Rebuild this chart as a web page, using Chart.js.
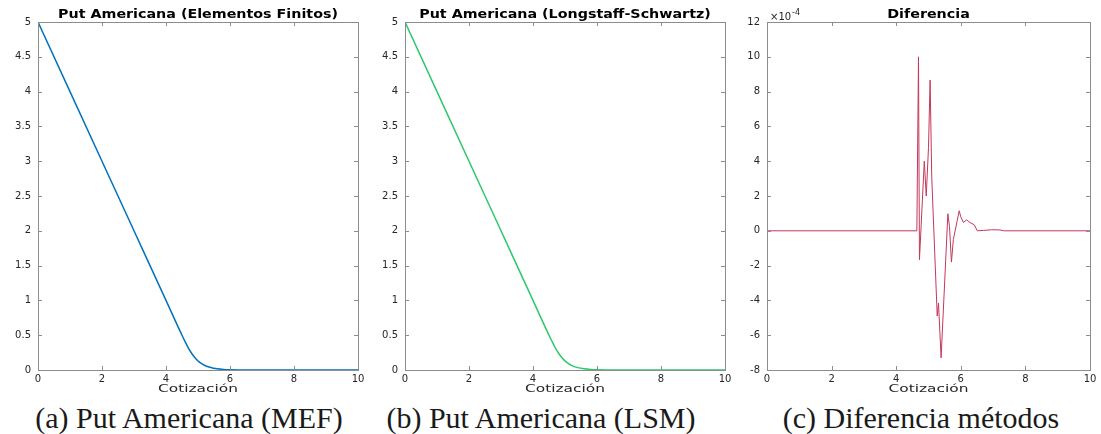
<!DOCTYPE html>
<html>
<head>
<meta charset="utf-8">
<script src="https://cdn.jsdelivr.net/npm/chart.js@4.4.1/dist/chart.umd.min.js"></script>
<style>
  body { margin: 0; background: #fff; width: 1101px; height: 434px; position: relative; overflow: hidden; }
  canvas { position: absolute; top: 0; }
  .cap { position: absolute; top: 403px; font-family: "Liberation Serif", serif; font-size: 30px; line-height: 30px; color: #1a1a1a; text-align: center; white-space: nowrap; }
</style>
</head>
<body>
<canvas id="mefChart" width="370" height="400" style="left:0px"></canvas>
<canvas id="lsmChart" width="367" height="400" style="left:370px"></canvas>
<canvas id="diffChart" width="364" height="400" style="left:737px"></canvas>
<div class="cap" style="left:0px;width:378px">(a) Put Americana (MEF)</div>
<div class="cap" style="left:370px;width:342px">(b) Put Americana (LSM)</div>
<div class="cap" style="left:737px;width:368px">(c) Diferencia métodos</div>
<script>
// Put price vs underlying (Cotización)
const spot = [0, 1, 2, 3, 4, 4.5, 4.6, 4.7, 4.8, 4.9, 5.0, 5.1, 5.2, 5.4, 5.6, 5.8, 6.0, 6.5, 7, 8, 9, 10];
const putMEF = [5, 4, 3, 2, 1, 0.5, 0.405, 0.315, 0.24, 0.18, 0.13, 0.095, 0.068, 0.035, 0.017, 0.008, 0.004, 0.001, 0, 0, 0, 0];
const putLSM = [5, 4, 3, 2, 1, 0.5, 0.406, 0.316, 0.241, 0.18, 0.131, 0.095, 0.067, 0.034, 0.017, 0.008, 0.004, 0.001, 0, 0, 0, 0];

// Difference between methods
const diffX = [0, 4.64, 4.69, 4.72, 4.87, 4.93, 5.0, 5.05, 5.10, 5.27, 5.31, 5.39, 5.6, 5.65, 5.71, 5.77, 5.95, 6.0, 6.08, 6.18, 6.28, 6.42, 6.51, 6.7, 6.95, 7.21, 7.33, 10];
const diffY = [0, 0, 10e-4, -1.66e-4, 4.0e-4, 2.0e-4, 4.8e-4, 8.66e-4, 3.1e-4, -4.9e-4, -4.15e-4, -7.3e-4, 0.98e-4, 0.25e-4, -1.8e-4, -0.5e-4, 1.15e-4, 0.8e-4, 0.48e-4, 0.63e-4, 0.48e-4, 0.34e-4, 0, 0.02e-4, 0.06e-4, 0.05e-4, 0, 0];

const xTicks = [0, 2, 4, 6, 8, 10];

const FONT = "DejaVu Sans";
const TICK_COLOR = "#262626";
const BOX_COLOR = "#8c8c8c";

function pts(xs, ys) {
  return xs.map((x, i) => ({ x: x, y: ys[i] }));
}

// MATLAB style box with inward ticks, title, x label and exponent
const matlabBox = {
  id: "matlabBox",
  afterDatasetsDraw(chart, args, opts) {
    const { ctx, chartArea: a, scales } = chart;
    ctx.save();
    ctx.strokeStyle = BOX_COLOR;
    ctx.lineWidth = 1;
    ctx.strokeRect(Math.round(a.left) + 0.5, Math.round(a.top) + 0.5, Math.round(a.right - a.left), Math.round(a.bottom - a.top));
    ctx.beginPath();
    scales.x.ticks.forEach((t) => {
      const px = Math.round(scales.x.getPixelForValue(t.value)) + 0.5;
      ctx.moveTo(px, a.bottom); ctx.lineTo(px, a.bottom - 4);
      ctx.moveTo(px, a.top); ctx.lineTo(px, a.top + 4);
    });
    scales.y.ticks.forEach((t) => {
      const py = Math.round(scales.y.getPixelForValue(t.value)) + 0.5;
      ctx.moveTo(a.left, py); ctx.lineTo(a.left + 4, py);
      ctx.moveTo(a.right, py); ctx.lineTo(a.right - 4, py);
    });
    ctx.stroke();

    const cx = (a.left + a.right) / 2;
    ctx.textAlign = "center";
    ctx.textBaseline = "alphabetic";

    // title
    ctx.fillStyle = "#000";
    ctx.font = "bold 12px " + FONT;
    ctx.save();
    ctx.translate(cx, a.top - 4);
    ctx.scale(1.19, 1);
    ctx.fillText(opts.title, 0, 0);
    ctx.restore();

    // x label
    ctx.fillStyle = TICK_COLOR;
    ctx.font = "11px " + FONT;
    ctx.save();
    ctx.translate(cx, a.bottom + 22);
    ctx.scale(1.4, 1);
    ctx.fillText("Cotización", 0, 0);
    ctx.restore();

    if (opts.exponent) {
      ctx.textAlign = "left";
      ctx.font = "10px " + FONT;
      ctx.fillText("\u00d710", a.left + 3, a.top - 2);
      ctx.font = "8px " + FONT;
      ctx.fillText("-4", a.left + 25, a.top - 7);
    }
    ctx.restore();
  },
};

function makeOptions(title, yMin, yMax, yStep, yFmt, yWidth, padRight, exponent) {
  return {
    responsive: false,
    animation: false,
    layout: { padding: { top: 22, right: padRight, left: 0, bottom: 0 } },
    plugins: {
      legend: { display: false },
      tooltip: { enabled: false },
      matlabBox: { title: title, exponent: exponent },
    },
    scales: {
      x: {
        type: "linear",
        min: 0,
        max: 10,
        afterBuildTicks(scale) { scale.ticks = xTicks.map((v) => ({ value: v })); },
        afterFit(scale) { scale.height = 30; },
        grid: { display: false, drawTicks: false },
        border: { display: false },
        ticks: { color: TICK_COLOR, font: { family: FONT, size: 10 }, padding: 3, maxRotation: 0 },
      },
      y: {
        min: yMin,
        max: yMax,
        afterFit(scale) { scale.width = yWidth; },
        grid: { display: false, drawTicks: false },
        border: { display: false },
        ticks: { stepSize: yStep, color: TICK_COLOR, font: { family: FONT, size: 10 }, padding: 7, callback: yFmt },
      },
    },
  };
}

const putFmt = (v) => String(Math.round(v * 10) / 10);
const diffFmt = (v) => String(Math.round(v * 1e4));

new Chart(document.getElementById("mefChart").getContext("2d"), {
  type: "line",
  data: {
    datasets: [{
      data: pts(spot, putMEF),
      borderColor: "#0072BD",
      borderWidth: 1.5,
      pointRadius: 0,
      cubicInterpolationMode: "monotone",
    }],
  },
  options: makeOptions("Put Americana (Elementos Finitos)", 0, 5, 0.5, putFmt, 38, 12, false),
  plugins: [matlabBox],
});

new Chart(document.getElementById("lsmChart").getContext("2d"), {
  type: "line",
  data: {
    datasets: [{
      data: pts(spot, putLSM),
      borderColor: "#2DC86A",
      borderWidth: 1.5,
      pointRadius: 0,
      cubicInterpolationMode: "monotone",
    }],
  },
  options: makeOptions("Put Americana (Longstaff-Schwartz)", 0, 5, 0.5, putFmt, 35, 12, false),
  plugins: [matlabBox],
});

new Chart(document.getElementById("diffChart").getContext("2d"), {
  type: "line",
  data: {
    datasets: [{
      data: pts(diffX, diffY),
      borderColor: "#C4385A",
      borderWidth: 1,
      pointRadius: 0,
      tension: 0,
    }],
  },
  options: makeOptions("Diferencia", -8e-4, 12e-4, 2e-4, diffFmt, 30, 11, true),
  plugins: [matlabBox],
});
</script>
</body>
</html>
